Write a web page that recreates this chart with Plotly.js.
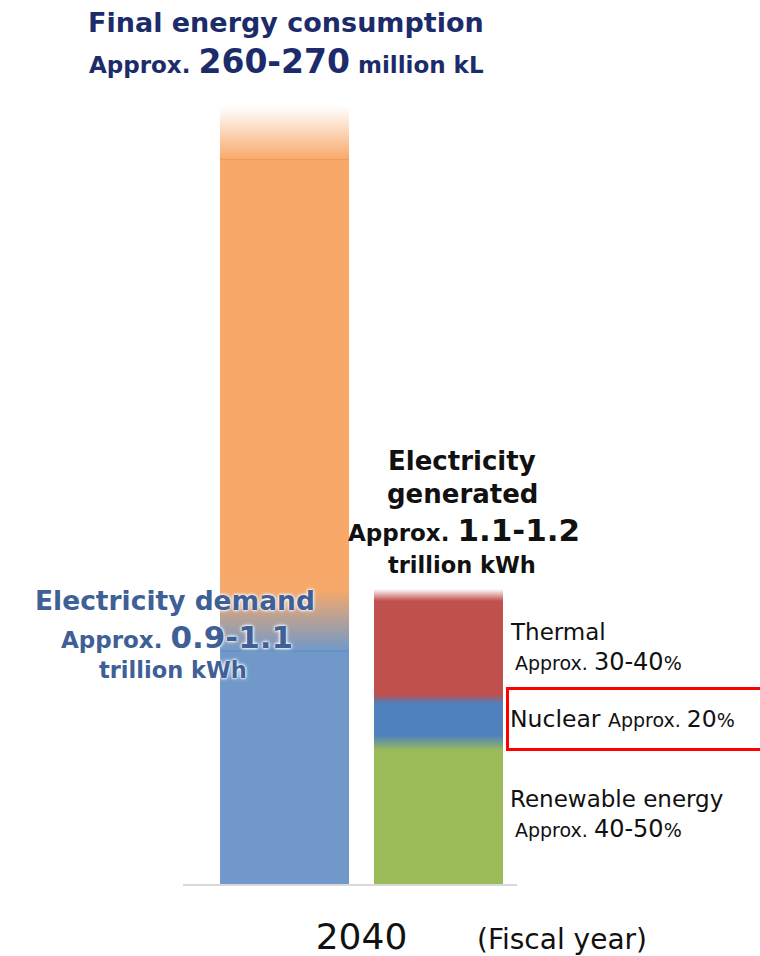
<!DOCTYPE html>
<html>
<head>
<meta charset="utf-8">
<script src="https://cdn.plot.ly/plotly-3.0.1.min.js"></script>
<style>html,body{margin:0;padding:0;background:#fff;}#chart{width:760px;height:956px;}</style>
</head>
<body>
<div id="chart"></div>
<script>
// ---- data (relative bar heights, picture units) ----
const categories = ['2040'];
const finalEnergyParts = ['Electricity demand', 'Other final energy'];
const finalEnergyHeights = [264, 487];
const generationSources = ['Renewable energy', 'Nuclear', 'Thermal'];
const generationHeights = [141, 44, 104];
const generationShares = ['40-50', '20', '30-40'];
const titleRange = '260-270';
const demandRange = '0.9-1.1';
const generatedRange = '1.1-1.2';

// ---- styles ----
const FONT = 'DejaVu Sans';
const leftColors = ['#7099c9', '#f8a969'];
const rightColors = ['#9bbb59', '#4f81bd', '#c0504d'];
const BAR_W = 0.5, GAP = 0.0484;
const leftOffset = -GAP - BAR_W, rightOffset = GAP;
const leftBlend = [31], leftTopBlend = 26.5;
const rightBlend = [7.5, 4.5], rightTopBlend = 6;

const traces = [];
function stackBars(parts, heights, colors, offset) {
  let base = 0;
  parts.forEach((name, i) => {
    traces.push({
      type: 'bar', name: name, x: categories.map((c, k) => k), y: [heights[i]], base: [base],
      width: [BAR_W], offset: [offset], marker: {color: colors[i], line: {width: 0}},
      hoverinfo: 'skip', showlegend: false
    });
    base += heights[i];
  });
}
stackBars(finalEnergyParts, finalEnergyHeights, leftColors, leftOffset);
stackBars(generationSources, generationHeights, rightColors, rightOffset);

function blend(offset, y0, y1, c0, c1) {
  const xa = offset, xb = offset + BAR_W;
  traces.push({
    type: 'scatter', mode: 'lines', x: [xa, xb, xb, xa, xa], y: [y0, y0, y1, y1, y0],
    fill: 'toself', line: {width: 0, color: 'rgba(0,0,0,0)'},
    fillgradient: {type: 'vertical', colorscale: [[0, c0], [1, c1]]},
    hoverinfo: 'skip', showlegend: false
  });
}
function edge(offset, y, color) {
  traces.push({
    type: 'scatter', mode: 'lines', x: [offset, offset + BAR_W], y: [y, y],
    line: {width: 1.2, color: color}, hoverinfo: 'skip', showlegend: false
  });
}
// left bar blends
(function () {
  const b = finalEnergyHeights[0];
  const top = finalEnergyHeights[0] + finalEnergyHeights[1];
  blend(leftOffset, b - leftBlend[0], b + leftBlend[0], leftColors[0], leftColors[1]);
  edge(leftOffset, b - leftBlend[0], '#6089c2');
  blend(leftOffset, top - leftTopBlend, top + leftTopBlend, leftColors[1], 'rgba(255,255,255,1)');
  edge(leftOffset, top - leftTopBlend, '#f49b55');
})();
// right bar blends
(function () {
  let cum = 0;
  for (let i = 0; i < generationHeights.length - 1; i++) {
    cum += generationHeights[i];
    blend(rightOffset, cum - rightBlend[i], cum + rightBlend[i], rightColors[i], rightColors[i + 1]);
  }
  cum += generationHeights[generationHeights.length - 1];
  blend(rightOffset, cum - rightTopBlend, cum + rightTopBlend, rightColors[2], 'rgba(255,255,255,1)');
})();

// ---- text placement helpers (page pixels -> paper) ----
const L = 183, R = 517, PH = 884;
const X = px => (px - L) / (R - L);
const Y = py => (PH - py) / PH;
const sp = (s, t) => '<span style="font-size:' + s + 'px">' + t + '</span>';

function ann(px, py, text, size, color, opts) {
  return Object.assign({
    xref: 'paper', yref: 'paper', x: X(px), y: Y(py), text: text, showarrow: false,
    xanchor: 'center', yanchor: 'middle',
    font: {family: FONT, size: size, color: color}
  }, opts || {});
}
const NAVY = '#1c2b69', DEM = '#3f5f97', BLK = '#111111';
const halo = '0 0 2px #fff, 0 0 3px #fff, 0 0 4px #fff';
const dem = s => ({font: {family: FONT, size: s, color: DEM, shadow: halo}});

// cumulative midpoints for right-hand labels
const cumR = [];
generationHeights.reduce((a, h, i) => { cumR[i] = a + h / 2; return a + h; }, 0);
const yData = v => PH - v;

const share = v => sp(19, 'Approx. ') + v + sp(19, '%');

const annotations = [
  ann(286, 22, '<b>Final energy consumption</b>', 27, NAVY),
  ann(286, 62, '<b>Approx. ' + sp(33, titleRange) + ' million kL</b>', 23, NAVY),

  ann(175, 600, '<b>Electricity demand</b>', 26.5, DEM, dem(26.5)),
  ann(177, 637, '<b>Approx. ' + sp(31, demandRange) + '</b>', 23, DEM, dem(23)),
  ann(173, 670, '<b>trillion kWh</b>', 22.5, DEM, dem(22.5)),

  ann(462, 461, '<b>Electricity</b>', 26, BLK),
  ann(462, 494, '<b>generated</b>', 26, BLK),
  ann(464, 530, '<b>Approx. ' + sp(31, generatedRange) + '</b>', 23, BLK),
  ann(462, 565, '<b>trillion kWh</b>', 22.5, BLK),

  ann(508, yData(cumR[2]) - 15, generationSources[2], 23, BLK, {xanchor: 'left'}),
  ann(513, yData(cumR[2]) + 15, share(generationShares[2]), 24, BLK, {xanchor: 'left'}),

  ann(506, yData(cumR[1]) - 2, generationSources[1] + ' ' + share(generationShares[1]), 23.5, BLK,
      {xanchor: 'left', align: 'left', width: 262, height: 56, borderpad: 1, borderwidth: 3, bordercolor: '#ff0000'}),

  ann(508, yData(cumR[0]) - 15, generationSources[0], 23, BLK, {xanchor: 'left'}),
  ann(513, yData(cumR[0]) + 15, share(generationShares[0]), 24, BLK, {xanchor: 'left'}),

  ann(562, 939, '(Fiscal year)', 28, BLK)
];

const layout = {
  width: 760, height: 956,
  margin: {l: L, r: 760 - R, t: 0, b: 956 - PH},
  paper_bgcolor: '#ffffff', plot_bgcolor: '#ffffff',
  barmode: 'overlay', showlegend: false,
  font: {family: FONT},
  xaxis: {
    type: 'linear', range: [-0.6919, 0.6027], fixedrange: true,
    tickvals: categories.map((c, k) => k), ticktext: categories,
    tickfont: {family: FONT, size: 36, color: '#111'}, ticks: '', ticklabelstandoff: 20,
    showgrid: false, zeroline: false, showline: true, linecolor: '#d9d9d9', linewidth: 2
  },
  yaxis: {range: [0, PH], visible: false, fixedrange: true, showgrid: false, zeroline: false},
  annotations: annotations
};

Plotly.newPlot('chart', traces, layout, {displayModeBar: false, staticPlot: true});
</script>
</body>
</html>
